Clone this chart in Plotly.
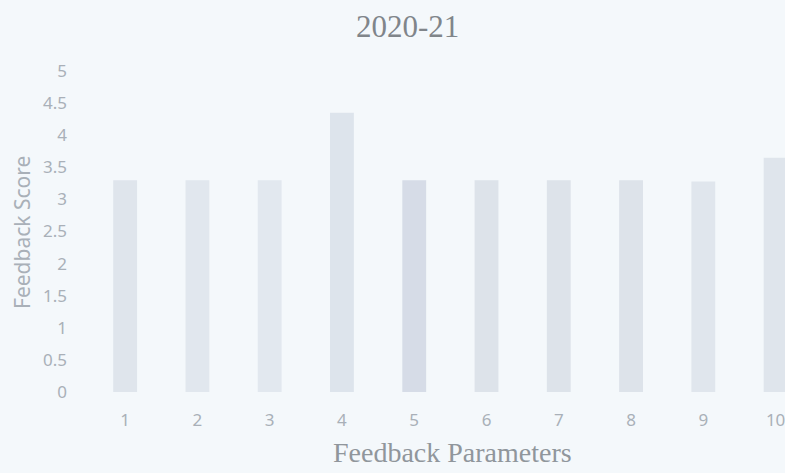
import plotly.graph_objects as go

parameters = [1, 2, 3, 4, 5, 6, 7, 8, 9, 10]
scores = [3.3, 3.3, 3.3, 4.35, 3.3, 3.3, 3.3, 3.3, 3.28, 3.65]
y_ticks = [0, 0.5, 1, 1.5, 2, 2.5, 3, 3.5, 4, 4.5, 5]
y_tick_labels = ["0", "0.5", "1", "1.5", "2", "2.5", "3", "3.5", "4", "4.5", "5"]

bar_colors = ["#dfe5ec", "#e1e7ee", "#e2e8ef", "#dde4ec", "#d6dce7",
              "#dde3ea", "#dde3ea", "#dde3ea", "#e0e6ed", "#dfe5ec"]

W, H = 785, 473
ML, MR, MT, MB = 89, 0, 71, 81

fig = go.Figure()
fig.add_trace(go.Bar(
    x=parameters, y=scores, width=0.33,
    marker=dict(color=bar_colors, line=dict(width=0)),
    showlegend=False, hoverinfo="skip",
))

tick_font = dict(family="Noto Sans", size=17, color="#a9b0b8")

fig.update_layout(
    width=W, height=H,
    paper_bgcolor="#f4f8fb", plot_bgcolor="#f4f8fb",
    margin=dict(l=ML, r=MR, t=MT, b=MB),
    xaxis=dict(
        range=[0.5, 10.13], tickmode="array", tickvals=parameters,
        ticktext=[str(p) for p in parameters],
        showgrid=False, zeroline=False, showline=False, ticks="",
        ticklabelstandoff=16, tickfont=tick_font, ticklabeloverflow="allow",
    ),
    yaxis=dict(
        range=[0, 5], tickmode="array", tickvals=y_ticks, ticktext=y_tick_labels,
        showgrid=False, zeroline=False, showline=False, ticks="",
        ticklabelstandoff=21, tickfont=tick_font,
    ),
)

pw = W - ML - MR
ph = H - MT - MB


def px_to_paper(px, py):
    return (px - ML) / pw, (H - MB - py) / ph


annots = [
    ("2020-21", 407, 26, 0, dict(family="Liberation Serif", size=31, color="#80858a")),
    ("Feedback Parameters", 452, 453, 0, dict(family="Liberation Serif", size=28, color="#90969c")),
    ("Feedback Score", 22, 233, -90, dict(family="Noto Sans", size=21, color="#a9b0b8")),
]
for text, px, py, ang, font in annots:
    ax, ay = px_to_paper(px, py)
    fig.add_annotation(text=text, x=ax, y=ay, xref="paper", yref="paper",
                       showarrow=False, textangle=ang, font=font,
                       xanchor="center", yanchor="middle")

fig.write_html("out.html",
               config={"displayModeBar": False},
               post_script="document.body.style.margin='0px';document.body.style.overflow='hidden';")
